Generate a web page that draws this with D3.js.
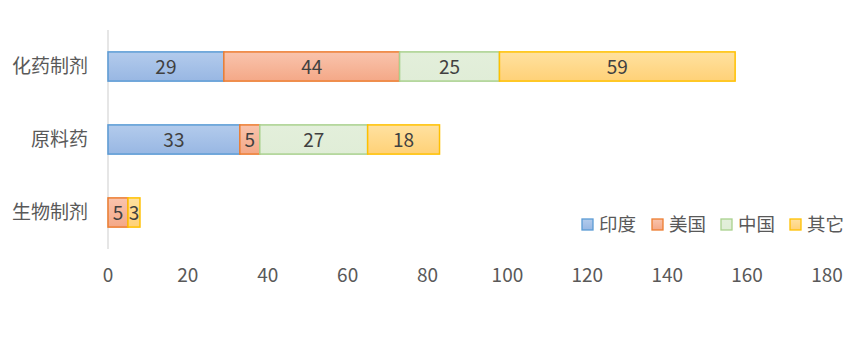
<!DOCTYPE html>
<html><head><meta charset="utf-8">
<script src="https://cdn.jsdelivr.net/npm/d3@7"></script>
<style>body{margin:0;background:#fff;} svg{display:block;font-family:"Noto Sans CJK SC","Noto Sans",sans-serif;}</style>
</head><body>
<svg id="c" width="866" height="357"></svg>
<script>
const categories = ["化药制剂", "原料药", "生物制剂"];
const seriesNames = ["印度", "美国", "中国", "其它"];
const india = [29, 33, 0];
const usa = [44, 5, 5];
const china = [25, 27, 0];
const other = [59, 18, 3];
const xTicks = [0, 20, 40, 60, 80, 100, 120, 140, 160, 180];

const styles = [
  {top:"#b3cbec", bot:"#98b7e3", stroke:"#5b9bd5"},
  {top:"#f9c4ad", bot:"#f4a887", stroke:"#ed7d31"},
  {top:"#e3efdb", bot:"#e0edd7", stroke:"#a9d18e"},
  {top:"#ffe1a0", bot:"#ffd177", stroke:"#ffc000"}
];

const svg = d3.select("#c");
const defs = svg.append("defs");
styles.forEach((s,i)=>{
  const g = defs.append("linearGradient").attr("id","g"+i).attr("x1",0).attr("y1",0).attr("x2",0).attr("y2",1);
  g.append("stop").attr("offset","0%").attr("stop-color",s.top);
  g.append("stop").attr("offset","100%").attr("stop-color",s.bot);
});

const x = d3.scaleLinear().domain([0,180]).range([108,827]);
const y = d3.scaleBand().domain(categories).range([30,249]).paddingInner(0.6).paddingOuter(0.3);

const rows = categories.map((c,i)=>({cat:c, 印度:india[i], 美国:usa[i], 中国:china[i], 其它:other[i]}));
const stack = d3.stack().keys(seriesNames)(rows);

svg.append("line").attr("x1",108).attr("x2",108).attr("y1",30).attr("y2",249)
  .attr("stroke","#d9d9d9").attr("stroke-width",1.3);

stack.forEach((layer,si)=>{
  const g = svg.append("g");
  layer.forEach((d,ci)=>{
    const v = d[1]-d[0];
    if (v<=0) return;
    const x0 = x(d[0]), x1 = x(d[1]);
    g.append("rect").attr("x",x0).attr("y",y(categories[ci]))
      .attr("width",x1-x0).attr("height",y.bandwidth())
      .attr("fill","url(#g"+si+")").attr("stroke",styles[si].stroke).attr("stroke-width",1.5);
    g.append("text").attr("x",(x0+x1)/2).attr("y",y(categories[ci])+y.bandwidth()/2-1)
      .attr("text-anchor","middle").attr("dominant-baseline","central")
      .attr("font-size",19).attr("fill","#404040").text(v);
  });
});

svg.append("g").selectAll("text").data(categories).join("text")
  .attr("x",88).attr("y",d=>y(d)+y.bandwidth()/2-2)
  .attr("text-anchor","end").attr("dominant-baseline","central")
  .attr("font-size",19).attr("fill","#595959").text(d=>d);

svg.append("g").selectAll("text").data(xTicks).join("text")
  .attr("x",d=>x(d)).attr("y",273).attr("text-anchor","middle").attr("dominant-baseline","central")
  .attr("font-size",19).attr("fill","#595959").text(d=>d);

const legX = [582, 652, 721, 790];
const lg = svg.append("g");
seriesNames.forEach((n,i)=>{
  lg.append("rect").attr("x",legX[i]).attr("y",219).attr("width",11).attr("height",11)
    .attr("fill","url(#g"+i+")").attr("stroke",styles[i].stroke).attr("stroke-width",1.3);
  lg.append("text").attr("x",legX[i]+17).attr("y",223).attr("dominant-baseline","central")
    .attr("font-size",18.5).attr("fill","#595959").text(n);
});
</script>
</body></html>
